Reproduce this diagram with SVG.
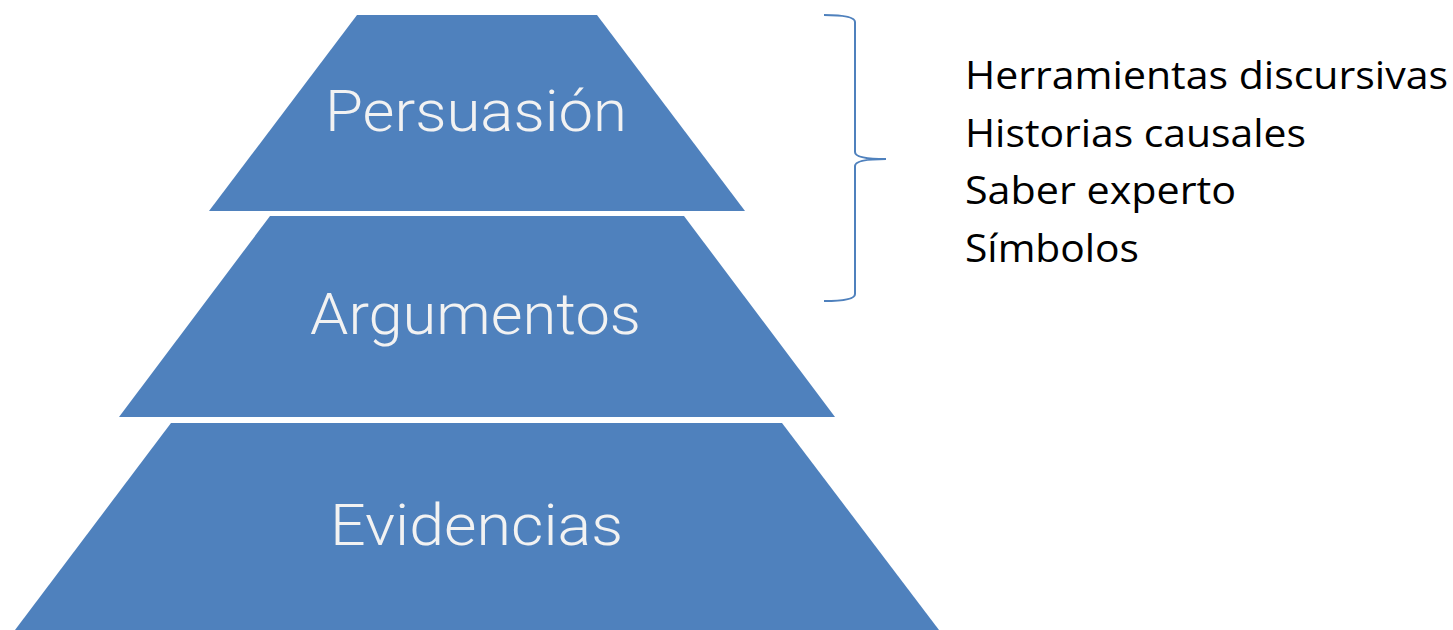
<svg xmlns="http://www.w3.org/2000/svg" width="1453" height="630" viewBox="0 0 1453 630">
<style>
.tier{fill:#4F81BD;}
.lbl{font-family:Roboto,"Liberation Sans",Arial,sans-serif;font-weight:300;font-size:58px;fill:#F2F2F2;}
.item{font-family:"Open Sans","Liberation Sans",sans-serif;font-size:39px;fill:#000;}
.brace{fill:none;stroke:#4F81BD;stroke-width:2;}
</style>
<rect width="1453" height="630" fill="#fff"/>
<g id="tier-persuasion">
<polygon class="tier" points="357,15 597,15 745,211 209,211"/>
<text class="lbl" x="325" y="131" textLength="302" lengthAdjust="spacingAndGlyphs">Persuasión</text>
</g>
<g id="tier-argumentos">
<polygon class="tier" points="270,216 684,216 835,417 119,417"/>
<text class="lbl" x="310" y="334" textLength="331" lengthAdjust="spacingAndGlyphs">Argumentos</text>
</g>
<g id="tier-evidencias">
<polygon class="tier" points="171,423 782,423 939,630 15,630"/>
<text class="lbl" x="330" y="545" textLength="293" lengthAdjust="spacingAndGlyphs">Evidencias</text>
</g>
<g id="connectors">
<path class="brace" d="M824,15 Q855,15 855,22 L855,152 Q855,159 886,159 Q855,159 855,166 L855,294 Q855,301 824,301"/>
</g>
<g id="list">
<text class="item" x="965" y="89" textLength="483" lengthAdjust="spacingAndGlyphs">Herramientas discursivas</text>
<text class="item" x="965" y="147" textLength="341" lengthAdjust="spacingAndGlyphs">Historias causales</text>
<text class="item" x="965" y="204" textLength="271" lengthAdjust="spacingAndGlyphs">Saber experto</text>
<text class="item" x="965" y="262" textLength="174" lengthAdjust="spacingAndGlyphs">Símbolos</text>
</g>
</svg>
